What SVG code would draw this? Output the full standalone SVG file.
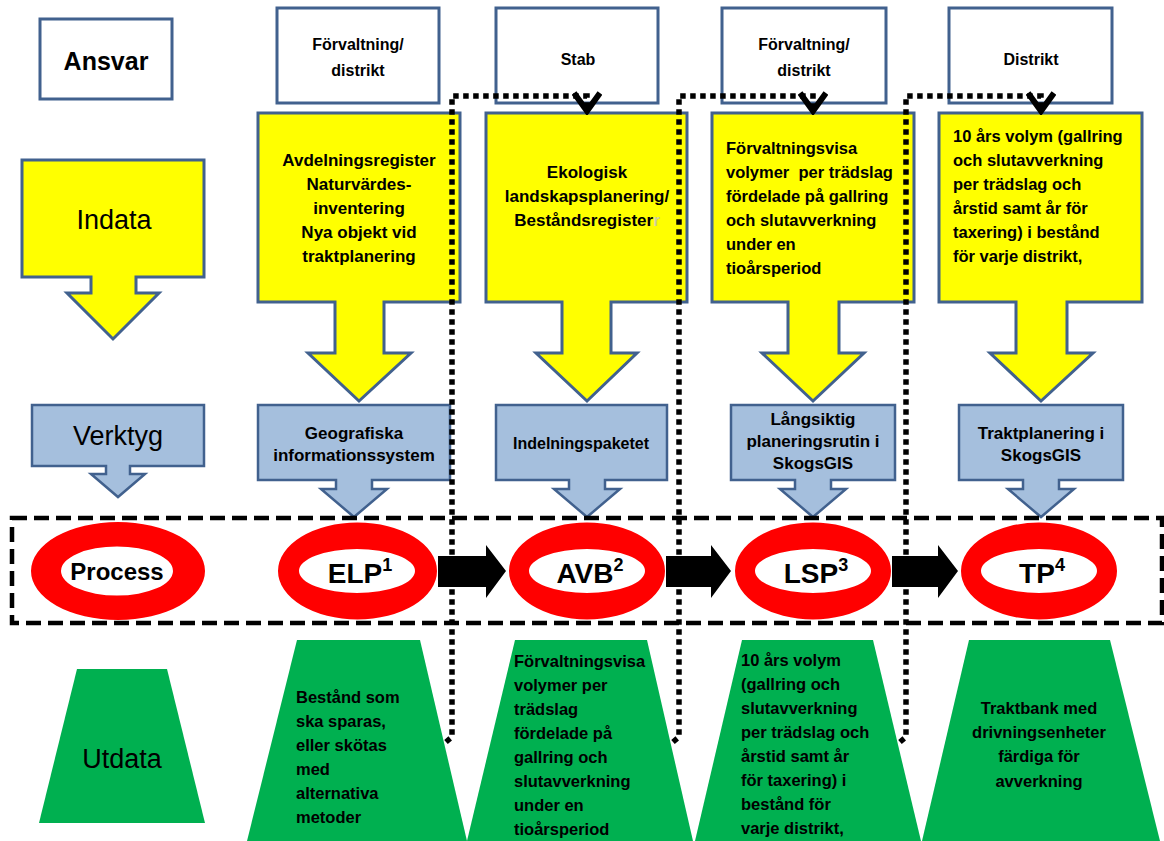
<svg xmlns="http://www.w3.org/2000/svg" width="1164" height="841" viewBox="0 0 1164 841">
<style>
.box{fill:#fff;stroke:#41618e;stroke-width:3}
.yel{fill:#ffff00;stroke:#41618e;stroke-width:3}
.blu{fill:#a5bfdd;stroke:#41618e;stroke-width:2.5}
.grn{fill:#00b050}
.ring{fill:#ff0000;fill-rule:evenodd}
text{font-family:"Liberation Sans",Arial,sans-serif;fill:#000}
.b{font-weight:bold}
.c{text-anchor:middle}
.s16{font-size:16px}
.s17{font-size:17px}
.s165{font-size:16.5px}
.big{font-size:27px}
.lab{font-size:28px;font-weight:bold;text-anchor:middle}
.lab.sm{font-size:24px}
.sup{font-size:18px}
.dot{fill:none;stroke:#000;stroke-width:5.5;stroke-dasharray:5.5 4.5}
.dash{fill:none;stroke:#000;stroke-width:4.5;stroke-dasharray:15 7}
.blk{fill:#000}
</style>
<defs>
<marker id="vhead" viewBox="0 0 24 30" refX="20" refY="15" markerWidth="24" markerHeight="30" markerUnits="userSpaceOnUse" orient="auto">
<path d="M2,2 L20,15 L2,28" fill="none" stroke="#000" stroke-width="6" stroke-dasharray="none"/>
</marker>
</defs>

<!-- Ansvar row -->
<g id="n-ansvar"><rect class="box" x="40" y="19" width="132" height="80"/><text class="b c" x="106" y="70" font-size="25">Ansvar</text></g>
<g id="n-forv1"><rect class="box" x="277" y="8" width="162" height="95"/><text class="b c s16" x="358" y="50">Förvaltning/</text><text class="b c s16" x="358" y="76">distrikt</text></g>
<g id="n-stab"><rect class="box" x="496" y="8" width="162" height="95"/><text class="b c s16" x="578" y="65">Stab</text></g>
<g id="n-forv2"><rect class="box" x="722" y="8" width="164" height="95"/><text class="b c s16" x="804" y="50">Förvaltning/</text><text class="b c s16" x="804" y="76">distrikt</text></g>
<g id="n-distrikt"><rect class="box" x="949" y="8" width="163" height="95"/><text class="b c s16" x="1031" y="65">Distrikt</text></g>

<!-- Indata row -->
<g id="n-indata"><path class="yel" d="M22,160 H204 V277 H136 V293 H159 L113,339 L67,293 H91 V277 H22 Z"/><text class="c big" x="114" y="229">Indata</text></g>
<g id="n-in1"><path class="yel" d="M258,113 H460 V302 H384 V353 H411 L359,401 L308,353 H335 V302 H258 Z"/>
<text class="b c s17" x="359" y="166">Avdelningsregister</text>
<text class="b c s17" x="359" y="190">Naturvärdes-</text>
<text class="b c s17" x="359" y="214">inventering</text>
<text class="b c s17" x="359" y="238">Nya objekt vid</text>
<text class="b c s17" x="359" y="262">traktplanering</text></g>
<g id="n-in2"><path class="yel" d="M486,113 H687 V302 H611 V353 H637 L587,401 L536,353 H562 V302 H486 Z"/>
<text class="b c s17" x="587" y="178">Ekologisk</text>
<text class="b c s17" x="587" y="202">landskapsplanering/</text>
<text class="b c s17" x="587" y="226">Beståndsregister<tspan fill="#cfcfa0">r</tspan></text></g>
<g id="n-in3"><path class="yel" d="M712,113 H914 V302 H839 V353 H864 L813,401 L762,353 H788 V302 H712 Z"/>
<text class="b s165" x="726" y="154">Förvaltningsvisa</text>
<text class="b s165" x="726" y="178" xml:space="preserve">volymer  per trädslag</text>
<text class="b s165" x="726" y="202">fördelade på gallring</text>
<text class="b s165" x="726" y="226">och slutavverkning</text>
<text class="b s165" x="726" y="250">under en</text>
<text class="b s165" x="726" y="274">tioårsperiod</text></g>
<g id="n-in4"><path class="yel" d="M939,113 H1142 V302 H1067 V353 H1093 L1041,401 L990,353 H1016 V302 H939 Z"/>
<text class="b s165" x="953" y="142">10 års volym (gallring</text>
<text class="b s165" x="953" y="166">och slutavverkning</text>
<text class="b s165" x="953" y="190">per trädslag och</text>
<text class="b s165" x="953" y="214">årstid samt år för</text>
<text class="b s165" x="953" y="238">taxering) i bestånd</text>
<text class="b s165" x="953" y="262">för varje distrikt,</text></g>

<!-- Verktyg row -->
<g id="n-verktyg"><path class="blu" d="M32,405 H204 V466 H130 V474 H145 L118,497 L91,474 H106 V466 H32 Z"/><text class="c big" x="118" y="445">Verktyg</text></g>
<g id="n-v1"><path class="blu" d="M258,405 H450 V480 H372 V489 H387 L354,517 L321,489 H336 V480 H258 Z"/>
<text class="b c s17" x="354" y="439">Geografiska</text>
<text class="b c s17" x="354" y="461">informationssystem</text></g>
<g id="n-v2"><path class="blu" d="M496,405 H667 V480 H605 V489 H620 L587,517 L554,489 H569 V480 H496 Z"/>
<text class="b c s16" x="581" y="449">Indelningspaketet</text></g>
<g id="n-v3"><path class="blu" d="M731,405 H895 V480 H831 V489 H846 L813,517 L780,489 H795 V480 H731 Z"/>
<text class="b c s17" x="813" y="425">Långsiktig</text>
<text class="b c s17" x="813" y="447">planeringsrutin i</text>
<text class="b c s17" x="813" y="469">SkogsGIS</text></g>
<g id="n-v4"><path class="blu" d="M959,405 H1123 V480 H1059 V489 H1074 L1041,517 L1008,489 H1023 V480 H959 Z"/>
<text class="b c s17" x="1041" y="439">Traktplanering i</text>
<text class="b c s17" x="1041" y="461">SkogsGIS</text></g>

<!-- Process frame -->
<g id="process-frame"><rect class="dash" x="12" y="518" width="1150" height="105"/></g>

<!-- Process row -->
<g id="n-process"><path class="ring" d="M31,571 a87,49 0 1,0 174,0 a87,49 0 1,0 -174,0 Z M61,571 a56,24.5 0 1,0 112,0 a56,24.5 0 1,0 -112,0 Z"/><text class="lab sm" x="117" y="580">Process</text></g>
<g id="n-elp"><path class="ring" d="M278,571 a79.5,48.5 0 1,0 159,0 a79.5,48.5 0 1,0 -159,0 Z M299,571 a58,22 0 1,0 116,0 a58,22 0 1,0 -116,0 Z"/><text class="lab" x="360" y="583">ELP<tspan class="sup" dy="-12">1</tspan></text></g>
<g id="n-avb"><path class="ring" d="M509,571 a78,48.5 0 1,0 156,0 a78,48.5 0 1,0 -156,0 Z M529,571 a58,22 0 1,0 116,0 a58,22 0 1,0 -116,0 Z"/><text class="lab" x="590" y="583">AVB<tspan class="sup" dy="-12">2</tspan></text></g>
<g id="n-lsp"><path class="ring" d="M735,571 a78,48.5 0 1,0 156,0 a78,48.5 0 1,0 -156,0 Z M755,571 a58,22 0 1,0 116,0 a58,22 0 1,0 -116,0 Z"/><text class="lab" x="816" y="583">LSP<tspan class="sup" dy="-12">3</tspan></text></g>
<g id="n-tp"><path class="ring" d="M961,571 a78,48.5 0 1,0 156,0 a78,48.5 0 1,0 -156,0 Z M981,571 a58,22 0 1,0 116,0 a58,22 0 1,0 -116,0 Z"/><text class="lab" x="1042" y="583">TP<tspan class="sup" dy="-12">4</tspan></text></g>

<!-- Utdata row -->
<g id="n-utdata"><path class="grn" d="M77,669 H167 L205,823 H39 Z"/><text class="c big" x="122" y="768">Utdata</text></g>
<g id="n-out1"><path class="grn" d="M297,640 H420 L467,841 H247 Z"/>
<text class="b s165" x="296" y="703">Bestånd som</text>
<text class="b s165" x="296" y="727">ska sparas,</text>
<text class="b s165" x="296" y="751">eller skötas</text>
<text class="b s165" x="296" y="775">med</text>
<text class="b s165" x="296" y="799">alternativa</text>
<text class="b s165" x="296" y="823">metoder</text></g>
<g id="n-out2"><path class="grn" d="M515,640 H647 L693,841 H467 Z"/>
<text class="b s165" x="514" y="667">Förvaltningsvisa</text>
<text class="b s165" x="514" y="691">volymer per</text>
<text class="b s165" x="514" y="715">trädslag</text>
<text class="b s165" x="514" y="739">fördelade på</text>
<text class="b s165" x="514" y="763">gallring och</text>
<text class="b s165" x="514" y="787">slutavverkning</text>
<text class="b s165" x="514" y="811">under en</text>
<text class="b s165" x="514" y="835">tioårsperiod</text></g>
<g id="n-out3"><path class="grn" d="M742,640 H873 L921,841 H695 Z"/>
<text class="b s165" x="741" y="666">10 års volym</text>
<text class="b s165" x="741" y="690">(gallring och</text>
<text class="b s165" x="741" y="714">slutavverkning</text>
<text class="b s165" x="741" y="738">per trädslag och</text>
<text class="b s165" x="741" y="762">årstid samt år</text>
<text class="b s165" x="741" y="786">för taxering) i</text>
<text class="b s165" x="741" y="810">bestånd för</text>
<text class="b s165" x="741" y="834">varje distrikt,</text></g>
<g id="n-out4"><path class="grn" d="M969,640 H1110 L1160,841 H922 Z"/>
<text class="b c s165" x="1039" y="714">Traktbank med</text>
<text class="b c s165" x="1039" y="738">drivningsenheter</text>
<text class="b c s165" x="1039" y="762">färdiga för</text>
<text class="b c s165" x="1039" y="787">avverkning</text></g>

<!-- Connectors -->
<g id="connectors">
<polygon class="blk" points="438,556 486,556 486,545 506,571 486,598 486,587 438,587"/>
<polygon class="blk" points="666,556 711,556 711,545 731,571 711,598 711,587 666,587"/>
<polygon class="blk" points="892,556 938,556 938,545 958,571 938,598 938,587 892,587"/>
<path class="dot" d="M446,742 L452,737 V96 H587 V111" marker-end="url(#vhead)"/>
<path class="dot" d="M673,742 L679,737 V96 H813 V111" marker-end="url(#vhead)"/>
<path class="dot" d="M900,742 L906,737 V96 H1041 V111" marker-end="url(#vhead)"/>
</g>
</svg>
